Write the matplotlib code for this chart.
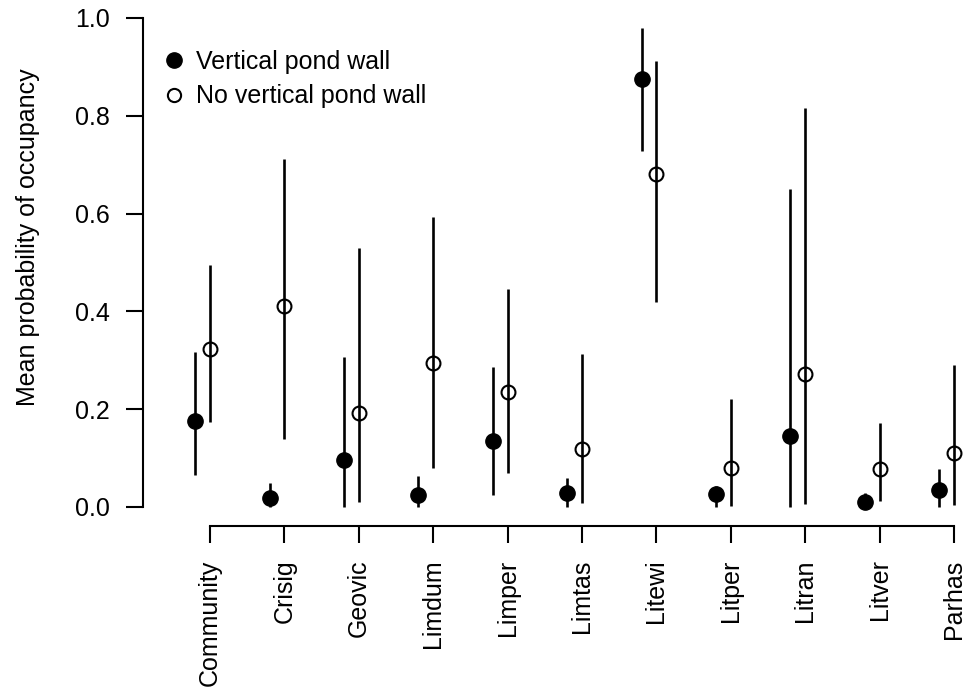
import numpy as np
import matplotlib
matplotlib.use('Agg')
import matplotlib.pyplot as plt
from matplotlib.lines import Line2D

plt.rcParams['font.family'] = ['Liberation Sans', 'DejaVu Sans']

species = ['Community', 'Crisig', 'Geovic', 'Limdum', 'Limper', 'Limtas',
           'Litewi', 'Litper', 'Litran', 'Litver', 'Parhas']

# vertical pond wall (filled)
wall_mean = [0.175, 0.019, 0.096, 0.024, 0.134, 0.029, 0.876, 0.026, 0.145, 0.010, 0.035]
wall_lo   = [0.065, 0.000, 0.000, 0.000, 0.025, 0.000, 0.728, 0.000, 0.000, 0.000, 0.000]
wall_hi   = [0.316, 0.050, 0.306, 0.064, 0.286, 0.060, 0.980, 0.042, 0.650, 0.028, 0.078]

# no vertical pond wall (open)
nowall_mean = [0.323, 0.410, 0.192, 0.295, 0.236, 0.119, 0.680, 0.080, 0.271, 0.078, 0.110]
nowall_lo   = [0.173, 0.140, 0.010, 0.080, 0.070, 0.008, 0.420, 0.001, 0.006, 0.012, 0.004]
nowall_hi   = [0.495, 0.712, 0.529, 0.593, 0.446, 0.313, 0.913, 0.220, 0.815, 0.171, 0.290]

x = np.arange(1, len(species) + 1)
x_wall = x - 0.2

fig = plt.figure(figsize=(9.74, 6.9), dpi=100)
ax = fig.add_axes([143 / 974, (690 - 526) / 690, (974 - 143) / 974, 526 / 690])

fs = 18
lw_bar = 1.9

# error bars
ax.vlines(x_wall, wall_lo, wall_hi, color='black', lw=lw_bar)
ax.vlines(x, nowall_lo, nowall_hi, color='black', lw=lw_bar)

# points
ax.plot(x_wall, wall_mean, 'o', color='black', ms=11, zorder=3)
ax.plot(x, nowall_mean, 'o', mfc='none', mec='black', mew=1.5, ms=10, zorder=3)

ax.set_xlim(0.0995, 11.269)
ax.set_ylim(-0.0389, 1.0368)

for s in ['top', 'right']:
    ax.spines[s].set_visible(False)
ax.spines['left'].set_bounds(0, 1)
ax.spines['bottom'].set_bounds(1, 11)
ax.spines['left'].set_linewidth(1.5)
ax.spines['bottom'].set_linewidth(1.5)

ax.set_yticks([0, 0.2, 0.4, 0.6, 0.8, 1.0])
ax.set_yticklabels(['0.0', '0.2', '0.4', '0.6', '0.8', '1.0'])
ax.set_xticks(x)
ax.set_xticklabels(species, rotation=90)
ax.tick_params(axis='both', length=12, width=1.5, pad=12, labelsize=fs, color='black')

ax.set_ylabel('Mean probability of occupancy', fontsize=fs)
ax.yaxis.set_label_coords(-(143 - 28) / 831, (526 - 237) / 526)
ax.yaxis.label.set_va('center')

handles = [
    Line2D([], [], marker='o', ls='none', color='black', ms=11),
    Line2D([], [], marker='o', ls='none', mfc='none', mec='black', mew=1.5, ms=9.5),
]
ax.legend(handles, ['Vertical pond wall', 'No vertical pond wall'], loc='upper left',
          bbox_to_anchor=(-0.008, 0.948), frameon=False, fontsize=fs,
          handletextpad=0.3, labelspacing=0.42, handlelength=1.2)

fig.savefig('out.png', dpi=100)
